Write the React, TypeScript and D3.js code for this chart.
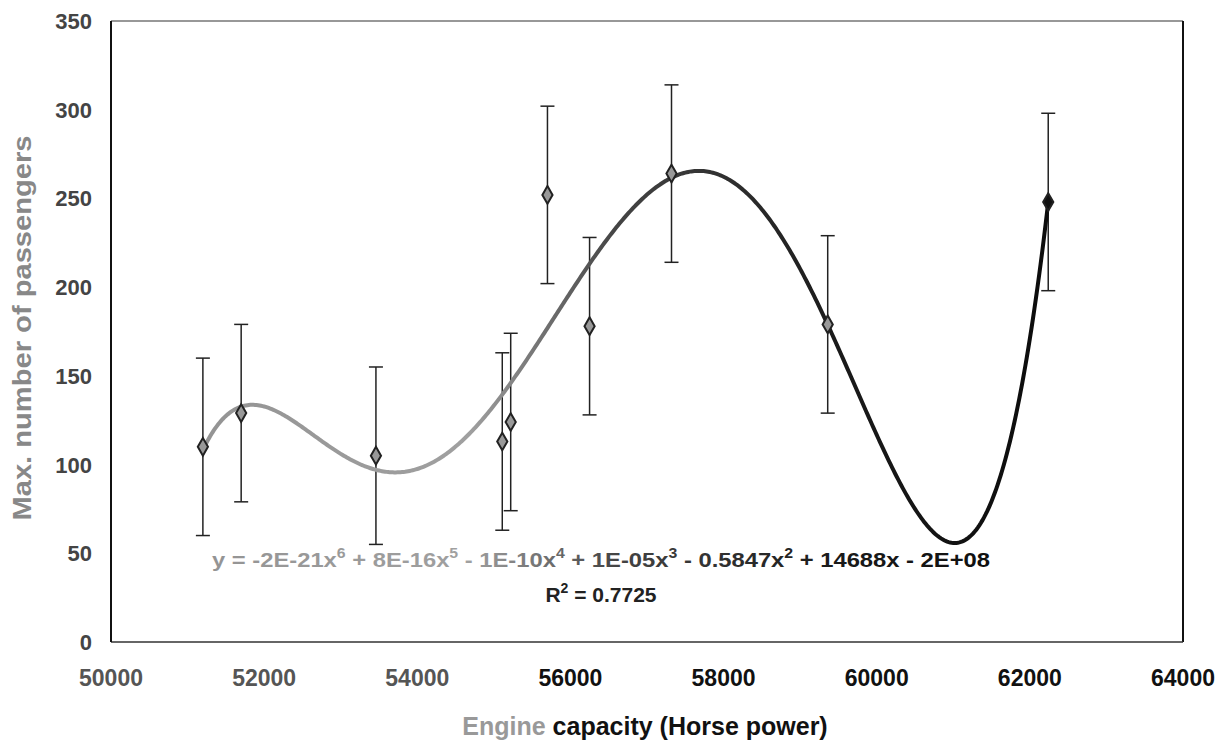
import React from "react";
import * as d3 from "d3";

// engine capacity (hp) and max passengers
const engineHp = [51200, 51700, 53460, 55110, 55220, 55700, 56250, 57320, 59360, 62240];
const maxPassengers = [110, 129, 105, 113, 124, 252, 178, 264, 179, 248];
const errorBar = [50, 50, 50, 50, 50, 50, 50, 50, 50, 50];

const xTicks = [50000, 52000, 54000, 56000, 58000, 60000, 62000, 64000];
const yTicks = [0, 50, 100, 150, 200, 250, 300, 350];

// least squares polynomial (like Excel's trendline), x scaled for stability
const fitPoly = (xs: number[], ys: number[], order: number) => {
  const c = 57000, s = 6000;
  const n = order + 1;
  const A = Array.from({ length: n }, () => new Array(n + 1).fill(0));
  xs.forEach((x, k) => {
    const t = (x - c) / s;
    for (let i = 0; i < n; i++) {
      for (let j = 0; j < n; j++) A[i][j] += Math.pow(t, i + j);
      A[i][n] += Math.pow(t, i) * ys[k];
    }
  });
  for (let i = 0; i < n; i++) {
    let p = i;
    for (let r = i + 1; r < n; r++) if (Math.abs(A[r][i]) > Math.abs(A[p][i])) p = r;
    [A[i], A[p]] = [A[p], A[i]];
    for (let r = 0; r < n; r++) {
      if (r === i) continue;
      const f = A[r][i] / A[i][i];
      for (let col = i; col <= n; col++) A[r][col] -= f * A[i][col];
    }
  }
  const coef = A.map((row, i) => row[n] / row[i]);
  return (x: number) => {
    const t = (x - c) / s;
    return coef.reduce((acc, a, i) => acc + a * Math.pow(t, i), 0);
  };
};

const App = () => {
  const x = d3.scaleLinear().domain([50000, 64000]).range([111, 1183]);
  const y = d3.scaleLinear().domain([0, 350]).range([642, 21]);

  const trend = fitPoly(engineHp, maxPassengers, 6);
  const [x0, x1] = d3.extent(engineHp) as [number, number];
  const samples = d3.range(x0, x1, 20).concat([x1]);
  const line = d3
    .line<number>()
    .x((d) => x(d))
    .y((d) => y(trend(d)))
    .curve(d3.curveLinear);

  const font = "'Liberation Sans', Arial, sans-serif";
  const diamond = d3.symbol(d3.symbolDiamond, 90)();

  return (
    <svg width={1232} height={742} style={{ position: "absolute", left: 0, top: 0, background: "#fff" }}>
      <defs>
        <linearGradient id="ink" gradientUnits="userSpaceOnUse" x1={0} y1={0} x2={1232} y2={0}>
          <stop offset="0" stopColor="#8a8a8a" />
          <stop offset="0.38" stopColor="#a0a0a0" />
          <stop offset="0.5" stopColor="#444" />
          <stop offset="0.68" stopColor="#1a1a1a" />
          <stop offset="1" stopColor="#000" />
        </linearGradient>
      </defs>

      {/* plot frame */}
      <line x1={111} x2={1183} y1={21} y2={21} stroke="#333" strokeWidth={1.2} />
      <line x1={1183} x2={1183} y1={21} y2={642} stroke="#111" strokeWidth={2} />
      <line x1={111} x2={1183} y1={642} y2={642} stroke="#333" strokeWidth={1.4} />
      <line x1={111} x2={111} y1={21} y2={642} stroke="#111" strokeWidth={2} />

      {/* ticks */}
      {yTicks.map((t) => (
        <text key={t} x={92} y={y(t) + 8} textAnchor="end" fontFamily={font} fontSize={22} fontWeight="bold" fill="#444">
          {t}
        </text>
      ))}
      {xTicks.map((t) => (
        <text key={t} x={x(t)} y={686} textAnchor="middle" fontFamily={font} fontSize={23} fontWeight="bold" fill={x(t) < 500 ? "#555" : "#111"}>
          {t}
        </text>
      ))}

      {/* error bars */}
      {engineHp.map((h, i) => {
        const cx = x(h);
        const top = y(maxPassengers[i] + errorBar[i]);
        const bot = y(maxPassengers[i] - errorBar[i]);
        return (
          <g key={"e" + i} stroke="#222" strokeWidth={1.5}>
            <line x1={cx} x2={cx} y1={top} y2={bot} />
            <line x1={cx - 7} x2={cx + 7} y1={top} y2={top} />
            <line x1={cx - 7} x2={cx + 7} y1={bot} y2={bot} />
          </g>
        );
      })}

      {/* trendline */}
      <path d={line(samples) ?? ""} fill="none" stroke="url(#ink)" strokeWidth={4} />

      {/* points */}
      {engineHp.map((h, i) => (
        <path
          key={"p" + i}
          d={diamond ?? ""}
          transform={`translate(${x(h)},${y(maxPassengers[i])})`}
          fill={x(h) > 900 ? "#111" : "#999"}
          stroke="#222"
          strokeWidth={2}
        />
      ))}

      {/* equation */}
      <text x={212} y={567} fontFamily={font} fontSize={21} fontWeight="bold" fill="url(#ink)" textLength={778} lengthAdjust="spacingAndGlyphs">
        <tspan>y = -2E-21x</tspan>
        <tspan dy={-9} fontSize={14}>6</tspan>
        <tspan dy={9}> + 8E-16x</tspan>
        <tspan dy={-9} fontSize={14}>5</tspan>
        <tspan dy={9}> - 1E-10x</tspan>
        <tspan dy={-9} fontSize={14}>4</tspan>
        <tspan dy={9}> + 1E-05x</tspan>
        <tspan dy={-9} fontSize={14}>3</tspan>
        <tspan dy={9}> - 0.5847x</tspan>
        <tspan dy={-9} fontSize={14}>2</tspan>
        <tspan dy={9}> + 14688x - 2E+08</tspan>
      </text>
      <text x={601} y={602} textAnchor="middle" fontFamily={font} fontSize={21} fontWeight="bold" fill="#222">
        <tspan>R</tspan>
        <tspan dy={-9} fontSize={14}>2</tspan>
        <tspan dy={9}> = 0.7725</tspan>
      </text>

      {/* axis titles */}
      <text x={645} y={735} textAnchor="middle" fontFamily={font} fontSize={25} fontWeight="bold" fill="#111">
        <tspan fill="#999">Engine</tspan> capacity (Horse power)
      </text>
      <text
        transform="translate(31,328) rotate(-90)"
        textAnchor="middle"
        fontFamily={font}
        fontSize={26}
        fontWeight="bold"
        fill="#888"
        textLength={385}
        lengthAdjust="spacingAndGlyphs"
      >
        Max. number of passengers
      </text>
    </svg>
  );
};

export default App;
